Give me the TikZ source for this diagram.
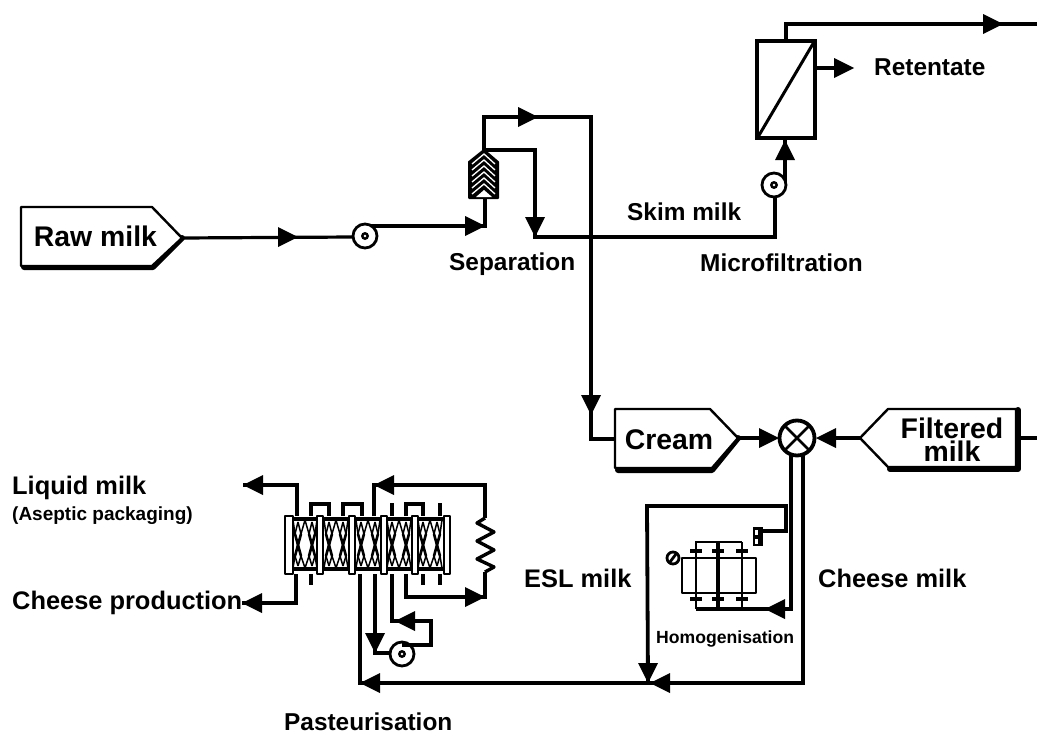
\documentclass[tikz,border=0pt]{standalone}
\usepackage{fontspec}
\setmainfont{Liberation Sans}
\newcommand{\tipR}[1]{\fill (#1) -- ++(-20,-10) -- ++(0,20) -- cycle;}
\newcommand{\tipL}[1]{\fill (#1) -- ++(20,-10) -- ++(0,20) -- cycle;}
\newcommand{\tipD}[1]{\fill (#1) -- ++(-10,-20) -- ++(20,0) -- cycle;}
\newcommand{\tipU}[1]{\fill (#1) -- ++(-10,20) -- ++(20,0) -- cycle;}
\newcommand{\plate}[2]{\draw[plateline,fill=white] (#1,516) rectangle (#2,574);}
\newcommand{\xsec}[1]{%
  \begin{scope}[shift={(#1,0)}]
    \draw[flow] (-13,519) -- (13,519) (-13,569) -- (13,569);
    \foreach \s in {-1,1}{
      \draw[line width=2.6pt] (\s*7-3,534) -- (\s*7+3,556);
      \draw[line width=2.6pt] (\s*7+3,534) -- (\s*7-3,556);
      \draw[line width=1.5pt] (0,520) -- (\s*4,534) (0,568) -- (\s*4,556);
      \draw[line width=1.5pt] (\s*12,520) -- (\s*10,534) (\s*12,568) -- (\s*10,556);
      \draw[line width=1.5pt] (\s*7,522) -- (\s*4,534) (\s*7,522) -- (\s*10,534);
      \draw[line width=1.5pt] (\s*7,566) -- (\s*4,556) (\s*7,566) -- (\s*10,556);
    }
  \end{scope}}
\newcommand{\pumpeye}[1]{%
  \draw[medline,fill=white] (#1) circle (12);
  \fill (#1) circle (4);
  \fill[white] (#1) circle (1.4);}
\tikzset{
  x=1pt,y=-1pt,
  flow/.style={line width=3.8pt,line join=miter,line cap=butt},
  rawline/.style={line width=3.2pt,line cap=butt,line join=miter},
  medline/.style={line width=2.8pt,line join=miter},
  plateline/.style={line width=2.6pt,line join=round},
  thinline/.style={line width=2.2pt,line join=round},
  boxline/.style={line width=2.4pt,line join=round,fill=white},
  shadowline/.style={line width=6pt,line cap=round,line join=round},
  big/.style={font=\fontsize{28.4}{23}\selectfont\bfseries,align=center,inner sep=0pt},
  lab/.style={font=\fontsize{24.4}{28}\selectfont\bfseries,anchor=west,inner sep=0pt},
  labw/.style={font=\fontsize{25.4}{28}\selectfont\bfseries,anchor=west,inner sep=0pt},
  small/.style={font=\fontsize{17.6}{20}\selectfont\bfseries,anchor=west,inner sep=0pt},
  smallw/.style={font=\fontsize{19}{20}\selectfont\bfseries,anchor=west,inner sep=0pt},
}
\begin{document}
\begin{tikzpicture}
\useasboundingbox (0,0) rectangle (1037,736);
\fill[white] (0,0) rectangle (1037,736);

% ---- named junctions
\coordinate (rawtip) at (182,238);
\coordinate (pump1) at (365,236);
\coordinate (p1out) at (368,226);
\coordinate (sepin) at (485,226);
\coordinate (sepbot) at (485,198);
\coordinate (septop) at (484,150);
\coordinate (topA) at (484,117);
\coordinate (topB) at (591,117);
\coordinate (creamjoin) at (591,439);
\coordinate (skimA) at (535,150);
\coordinate (skimB) at (535,237);
\coordinate (skimC) at (775,237);
\coordinate (pump2) at (774,185);
\coordinate (p2out) at (785,183);
\coordinate (mfin) at (785,138);
\coordinate (mfout) at (786,41);
\coordinate (mfc) at (786,24);
\coordinate (endR) at (1037,24);
\coordinate (mfside) at (815,68);
\coordinate (retend) at (854,68);
\coordinate (creamL) at (615,439);
\coordinate (creamtip) at (738,438);
\coordinate (mix) at (797,438);
\coordinate (filttip) at (860,438);
\coordinate (filtR) at (1018,438);
\coordinate (endF) at (1037,438);
\coordinate (mixL) at (791,455);
\coordinate (mixR) at (803,455);
\coordinate (hA) at (791,609);
\coordinate (hB) at (696,609);
\coordinate (hC) at (803,683);
\coordinate (merge) at (648,683);
\coordinate (fA) at (763,531);
\coordinate (fB) at (786,531);
\coordinate (fC) at (786,506);
\coordinate (fD) at (647,506);
\coordinate (pA) at (360,683);
\coordinate (pB) at (360,574);
\coordinate (lA) at (297,516);
\coordinate (lB) at (297,485);
\coordinate (lC) at (243,485);
\coordinate (cA) at (296,574);
\coordinate (cB) at (296,603);
\coordinate (cC) at (242,603);
\coordinate (rA) at (374,516);
\coordinate (rB) at (374,485);
\coordinate (rC) at (485,485);
\coordinate (rD) at (485,518);
\coordinate (rE) at (485,572);
\coordinate (rF) at (485,597);
\coordinate (rG) at (406,597);
\coordinate (rH) at (406,574);
\coordinate (dA) at (375,574);
\coordinate (dB) at (375,653);
\coordinate (pump3) at (402,654);
\coordinate (eA) at (402,645);
\coordinate (eB) at (431,645);
\coordinate (eC) at (431,621);
\coordinate (eD) at (392,621);
\coordinate (eE) at (392,574);

% ---- Raw milk box
\draw[shadowline] (rawtip) -- (153,267) -- (24,267);
\draw[boxline] (21,207) -- (152,207) -- (rawtip) -- (152,266) -- (21,266) -- cycle;
\node[big] (raw) at (95.5,236) {Raw milk};

% ---- Main flows
\draw[rawline] (rawtip) -- (353,237);
\tipR{298,237}
\draw[flow] (p1out) -- (sepin) -- (sepbot);
\tipR{sepin}
\draw[flow] (septop) -- (topA) -- (topB) -- (creamjoin) -- (creamL);
\tipR{538,117}
\tipD{591,415}
\draw[flow] (septop) -- (skimA) -- (skimB) -- (skimC) -- (775,197);
\tipD{skimB}
\draw[flow] (p2out) -- (mfin);
\tipU{785,140}
\draw[rawline] (mfout) -- (mfc) -- (endR);
\tipR{1003,24}
\draw[flow] (mfside) -- (840,68);
\tipR{retend}

% ---- pumps
\pumpeye{pump1}
\pumpeye{pump2}

% ---- Separator
\filldraw[line width=2pt,line join=round] (469,198) -- (469,162) -- (484,150) -- (498,162) -- (498,198) -- cycle;
\fill[white] (476,197) -- (484,190) -- (492,197) -- cycle;
\foreach \y in {160,166,...,190}{
  \draw[white,line width=1.3pt] (472,\y+4) -- (484,\y-6) -- (495,\y+4);
}

% ---- Microfilter
\draw[line width=3.6pt,line join=miter,fill=white] (757,41) rectangle (815,138);
\draw[line width=3pt] (758,137) -- (814,42);

% ---- Cream box
\draw[shadowline] (creamtip) -- (712,470) -- (618,470);
\draw[boxline] (615,409) -- (710,409) -- (creamtip) -- (712,468) -- (615,468) -- cycle;
\node[big] (cream) at (669,440) {Cream};
\draw[flow] (creamtip) -- (765,438);
\tipR{779,438}

% ---- Mixer
\draw[flow] (filttip) -- (830,438);
\tipL{816,438}
\draw[flow,fill=white] (mix) circle (17.5);
\draw[line width=2.6pt] (mix)++(-12.4,-12.4) -- ++(24.8,24.8);
\draw[line width=2.6pt] (mix)++(-12.4,12.4) -- ++(24.8,-24.8);

% ---- Filtered milk box
\draw[shadowline] (1018,410) -- (1018,469) -- (890,469);
\draw[boxline] (filttip) -- (888,409) -- (1016,409) -- (1016,467) -- (888,467) -- cycle;
\node[big] (filt) at (952,440) {Filtered\\milk};
\draw[flow] (filtR) -- (endF);

% ---- lines from mixer
\draw[flow] (mixL) -- (hA) -- (hB);
\tipL{765,609}
\draw[flow] (mixR) -- (hC) -- (merge);
\tipL{650,683}
\draw[flow] (fA) -- (fB) -- (fC) -- (fD) -- (merge);
\tipD{merge}

% ---- Homogeniser
\draw[thinline,fill=white] (682,558) rectangle (756,593);
\draw[medline] (742,542) -- (696,542) -- (696,609);
\draw[flow] (718,542) -- (718,609);
\draw[medline] (742,542) -- (742,609);
\foreach \x in {696,718,742}{
  \draw[line width=3.2pt] (\x-6,551) -- (\x+6,551);
  \draw[line width=3.2pt] (\x-6,599) -- (\x+6,599);
}
\fill (753,527) rectangle (763,546);
\fill[white] (755,530) rectangle (758,535);
\fill[white] (755,539) rectangle (758,544);
\draw[medline,fill=white] (673,558) circle (6);
\draw[medline] (670,562) -- (676,554);

% ---- Pasteuriser connectors
\draw[flow] (lA) -- (lB) -- (lC);
\tipL{lC}
\draw[flow] (cA) -- (cB) -- (cC);
\tipL{cC}
\draw[flow] (merge) -- (pA) -- (pB);
\tipL{360,683}
\draw[flow] (rA) -- (rB) -- (rC) -- (rD);
\tipL{rB}
\draw[flow] (rE) -- (rF) -- (rG) -- (rH);
\tipR{rF}
\draw[line width=3.4pt,line join=round] (rD) -- (477,523) -- (494,532) -- (477,541) -- (494,550) -- (477,559) -- (494,567) -- (rE);
\draw[flow] (dA) -- (dB) -- (392,653);
\tipD{dB}
\pumpeye{pump3}
\draw[flow] (eA) -- (eB) -- (eC) -- (eD) -- (eE);
\tipL{395,621}
% bridges and stubs
\draw[flow] (311,516) -- (311,504) -- (329,504) -- (329,516);
\draw[flow] (343,516) -- (343,504) -- (362,504) -- (362,516);
\draw[flow] (406,516) -- (406,504) -- (423,504) -- (423,516);
\draw[flow] (392,516) -- (392,503);
\draw[flow] (440,516) -- (440,503);
\draw[flow] (311,574) -- (311,585);
\draw[flow] (423,574) -- (423,585);
\draw[flow] (440,574) -- (440,585);
% plate pack
\foreach \c in {305,336,368,399,430}{ \xsec{\c} }
\plate{285}{293}\plate{317}{323}\plate{349}{355}\plate{381}{387}\plate{412}{418}\plate{444}{450}

% ---- Labels
\node[lab] (retent) at (874,67) {Retentate};
\node[lab] (skim) at (627,212) {Skim milk};
\node[lab] (sep) at (449,264) {Separation};
\node[lab] (micro) at (700,263) {Microfiltration};
\node[labw] (liq) at (12,488) {Liquid milk};
\node[smallw] (asep) at (12,516) {(Aseptic packaging)};
\node[labw] (chp) at (12,603) {Cheese production};
\node[labw] (esl) at (524,578) {ESL milk};
\node[labw] (chm) at (818,578) {Cheese milk};
\node[small] (hom) at (656,639) {Homogenisation};
\node[lab] (past) at (284,722) {Pasteurisation};
\end{tikzpicture}
\end{document}
